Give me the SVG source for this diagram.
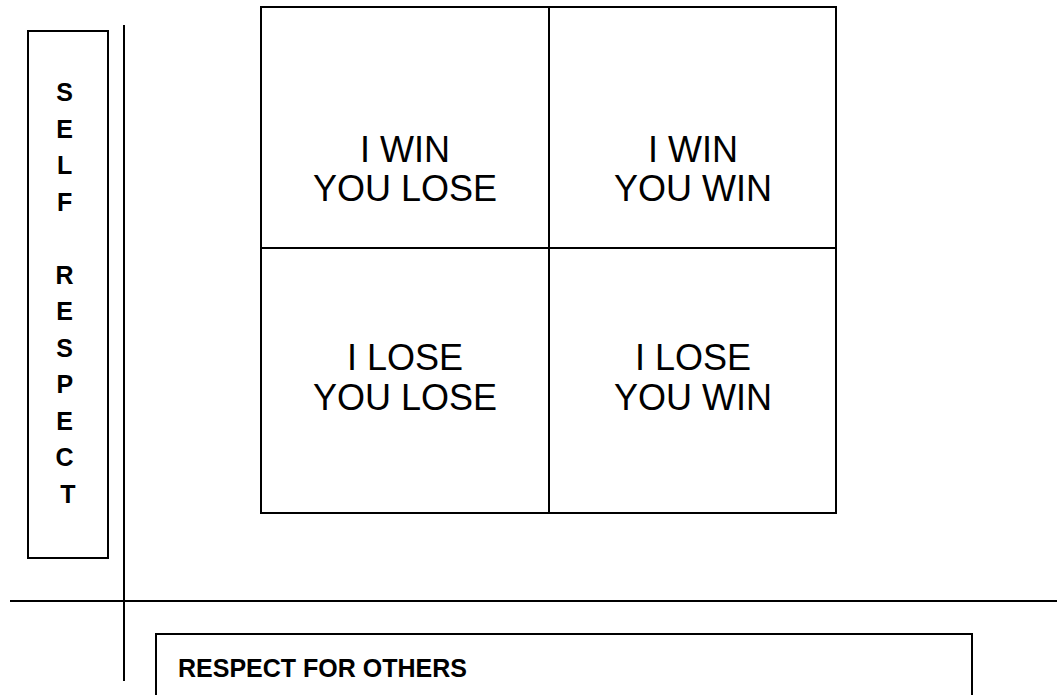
<svg xmlns="http://www.w3.org/2000/svg" width="1057" height="695" viewBox="0 0 1057 695">
<style>
.ln{stroke:#000;stroke-width:2;fill:none}
.bx{fill:#fff;stroke:#000;stroke-width:2}
.q{font-family:"Liberation Sans",Arial,sans-serif;font-size:36px;text-anchor:middle;fill:#000}
.b{font-family:"Liberation Sans",Arial,sans-serif;font-weight:bold;font-size:25px;fill:#000}
</style>
<rect width="1057" height="695" fill="#fff"/>
<g id="axes">
<line class="ln" x1="124" y1="25" x2="124" y2="681"/>
<line class="ln" x1="10" y1="601" x2="1057" y2="601"/>
</g>
<g id="self-respect">
<rect class="bx" x="28" y="31" width="80" height="527"/>
<text class="b" text-anchor="middle">
<tspan x="68" y="101">S</tspan>
<tspan x="68" y="138">E</tspan>
<tspan x="68" y="174">L</tspan>
<tspan x="68" y="211">F</tspan>
<tspan x="68" y="284">R</tspan>
<tspan x="68" y="320">E</tspan>
<tspan x="68" y="357">S</tspan>
<tspan x="68" y="393">P</tspan>
<tspan x="68" y="430">E</tspan>
<tspan x="68" y="466">C</tspan>
<tspan x="68" y="503">T</tspan>
</text>
</g>
<g id="grid">
<rect class="bx" x="261" y="7" width="575" height="506"/>
<line class="ln" x1="549" y1="7" x2="549" y2="513"/>
<line class="ln" x1="261" y1="248" x2="836" y2="248"/>
</g>
<g id="q-win-lose"><text class="q"><tspan x="405" y="162">I WIN</tspan><tspan x="405" y="201">YOU LOSE</tspan></text></g>
<g id="q-win-win"><text class="q"><tspan x="693" y="162">I WIN</tspan><tspan x="693" y="201">YOU WIN</tspan></text></g>
<g id="q-lose-lose"><text class="q"><tspan x="405" y="370">I LOSE</tspan><tspan x="405" y="410">YOU LOSE</tspan></text></g>
<g id="q-lose-win"><text class="q"><tspan x="693" y="370">I LOSE</tspan><tspan x="693" y="410">YOU WIN</tspan></text></g>
<g id="respect-others">
<rect class="bx" x="156" y="634" width="816" height="80"/>
<text class="b" x="178" y="677" font-size="24.5">RESPECT FOR OTHERS</text>
</g>
</svg>
